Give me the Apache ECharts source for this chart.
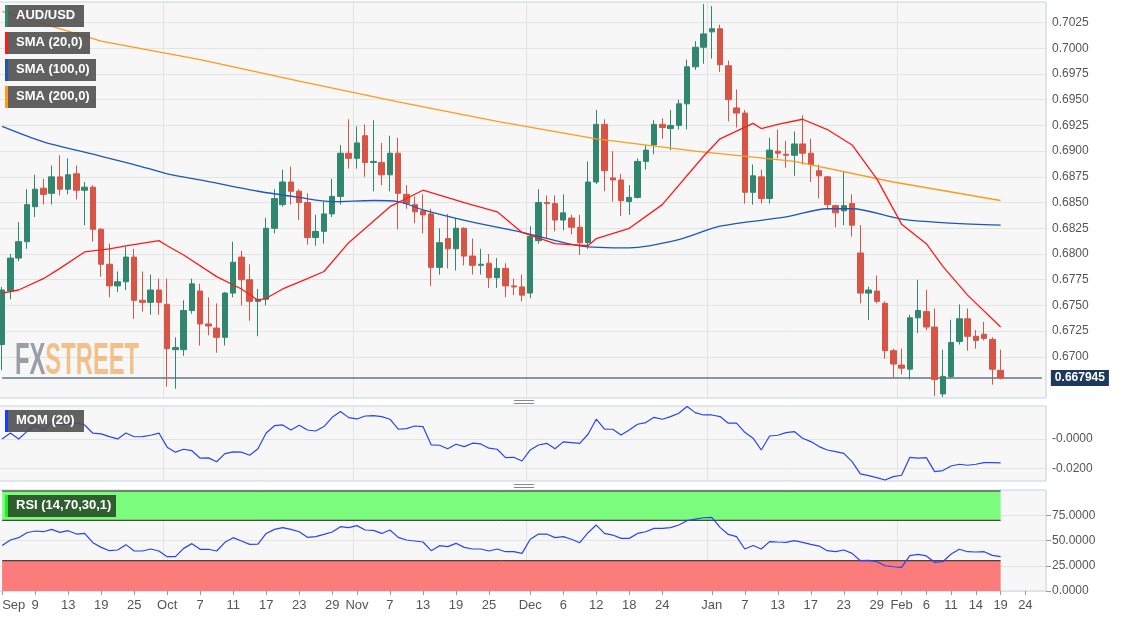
<!DOCTYPE html>
<html>
<head>
<meta charset="utf-8">
<script src="https://cdn.jsdelivr.net/npm/echarts@6/dist/echarts.min.js"></script>
<style>
  html, body { margin: 0; padding: 0; background: #fff; }
  #chart { width: 1125px; height: 618px; }
</style>
</head>
<body>
<div id="chart"></div>
<script>
// daily candles [open, close, low, high]
const ohlc = [
  [0.6712,0.6765,0.6687,0.6768],[0.6764,0.6796,0.6756,0.6800],[0.6796,0.6812,0.6793,0.6831],[0.6812,0.6848,0.6805,0.6863],
  [0.6846,0.6863,0.6836,0.6877],[0.6864,0.6858,0.6848,0.6873],[0.6859,0.6875,0.6848,0.6886],[0.6875,0.6863,0.6857,0.6896],
  [0.6863,0.6877,0.6858,0.6893],[0.6878,0.6862,0.6853,0.6886],[0.6862,0.6865,0.6828,0.6870],[0.6865,0.6824,0.6812,0.6867],
  [0.6824,0.6790,0.6778,0.6825],[0.6790,0.6769,0.6758,0.6810],[0.6769,0.6773,0.6763,0.6783],[0.6773,0.6797,0.6765,0.6807],
  [0.6797,0.6755,0.6737,0.6805],[0.6755,0.6753,0.6744,0.6783],[0.6753,0.6765,0.6741,0.6780],[0.6765,0.6753,0.6741,0.6776],
  [0.6751,0.6708,0.6671,0.6776],[0.6707,0.6709,0.6669,0.6719],[0.6707,0.6745,0.6701,0.6755],[0.6745,0.6771,0.6742,0.6776],
  [0.6764,0.6732,0.6711,0.6771],[0.6732,0.6730,0.6721,0.6758],[0.6728,0.6719,0.6704,0.6752],[0.6719,0.6762,0.6711,0.6763],
  [0.6762,0.6792,0.6758,0.6812],[0.6797,0.6775,0.6750,0.6803],[0.6775,0.6754,0.6735,0.6790],[0.6754,0.6756,0.6720,0.6766],
  [0.6756,0.6825,0.6750,0.6835],[0.6825,0.6854,0.6820,0.6863],[0.6848,0.6870,0.6846,0.6882],[0.6870,0.6861,0.6848,0.6885],
  [0.6861,0.6850,0.6833,0.6863],[0.6850,0.6816,0.6809,0.6859],[0.6816,0.6822,0.6808,0.6838],[0.6822,0.6839,0.6810,0.6851],
  [0.6839,0.6856,0.6836,0.6873],[0.6856,0.6898,0.6848,0.6906],[0.6898,0.6893,0.6883,0.6931],[0.6893,0.6908,0.6883,0.6924],
  [0.6915,0.6889,0.6875,0.6926],[0.6889,0.6890,0.6861,0.6930],[0.6889,0.6877,0.6867,0.6908],[0.6877,0.6898,0.6861,0.6915],
  [0.6898,0.6859,0.6824,0.6913],[0.6858,0.6849,0.6844,0.6867],[0.6848,0.6841,0.6830,0.6856],[0.6842,0.6838,0.6820,0.6858],
  [0.6839,0.6787,0.6769,0.6844],[0.6787,0.6811,0.6780,0.6825],[0.6815,0.6805,0.6786,0.6839],[0.6805,0.6825,0.6784,0.6835],
  [0.6825,0.6798,0.6789,0.6826],[0.6798,0.6789,0.6780,0.6815],[0.6789,0.6790,0.6780,0.6805],[0.6791,0.6777,0.6767,0.6800],
  [0.6777,0.6786,0.6767,0.6796],[0.6786,0.6769,0.6758,0.6791],[0.6769,0.6768,0.6760,0.6776],[0.6768,0.6760,0.6754,0.6780],
  [0.6762,0.6817,0.6757,0.6827],[0.6813,0.6850,0.6810,0.6863],[0.6850,0.6849,0.6815,0.6857],[0.6849,0.6833,0.6822,0.6857],
  [0.6833,0.6840,0.6823,0.6858],[0.6835,0.6826,0.6819,0.6838],[0.6826,0.6811,0.6799,0.6838],[0.6811,0.6870,0.6805,0.6890],
  [0.6870,0.6926,0.6868,0.6940],[0.6926,0.6881,0.6861,0.6931],[0.6874,0.6872,0.6851,0.6900],[0.6872,0.6852,0.6837,0.6878],
  [0.6851,0.6855,0.6838,0.6867],[0.6855,0.6890,0.6854,0.6893],[0.6890,0.6901,0.6882,0.6906],[0.6906,0.6926,0.6897,0.6930],
  [0.6926,0.6923,0.6912,0.6932],[0.6922,0.6925,0.6901,0.6940],[0.6925,0.6946,0.6921,0.6950],[0.6946,0.6982,0.6921,0.6989],
  [0.6982,0.7001,0.6979,0.7007],[0.7001,0.7014,0.6985,0.7043],[0.7016,0.7019,0.6990,0.7041],[0.7019,0.6984,0.6977,0.7023],
  [0.6983,0.6950,0.6929,0.6988],[0.6942,0.6937,0.6923,0.6960],[0.6937,0.6860,0.6849,0.6940],[0.6860,0.6876,0.6848,0.6887],
  [0.6875,0.6854,0.6849,0.6882],[0.6854,0.6901,0.6849,0.6913],[0.6900,0.6898,0.6893,0.6921],[0.6897,0.6896,0.6884,0.6910],
  [0.6896,0.6907,0.6876,0.6919],[0.6907,0.6898,0.6887,0.6935],[0.6898,0.6887,0.6870,0.6912],[0.6881,0.6876,0.6854,0.6887],
  [0.6875,0.6848,0.6843,0.6876],[0.6847,0.6840,0.6826,0.6848],[0.6842,0.6847,0.6828,0.6880],[0.6849,0.6828,0.6817,0.6858],
  [0.6801,0.6762,0.6752,0.6828],[0.6762,0.6765,0.6736,0.6768],[0.6764,0.6754,0.6752,0.6779],[0.6752,0.6706,0.6698,0.6754],
  [0.6706,0.6693,0.6680,0.6708],[0.6692,0.6689,0.6683,0.6708],[0.6688,0.6738,0.6678,0.6741],[0.6738,0.6745,0.6723,0.6775],
  [0.6744,0.6729,0.6726,0.6765],[0.6729,0.6678,0.6662,0.6747],[0.6664,0.6681,0.6661,0.6707],[0.6681,0.6714,0.6679,0.6736],
  [0.6715,0.6737,0.6712,0.6751],[0.6737,0.6720,0.6706,0.6747],[0.6720,0.6716,0.6708,0.6726],[0.6722,0.6718,0.6716,0.6734],
  [0.6717,0.6688,0.6673,0.6719],[0.6687,0.667945,0.6678,0.6707]
];
const lastPrice = 0.667945;

// moving averages read at [candle index, value]
const sma20 = [[0,0.6762],[2,0.6765],[5,0.6776],[7,0.6786],[10,0.6802],[13,0.6805],[15,0.6808],[19,0.6813],[20,0.6808],
  [22,0.6799],[26,0.6778],[29,0.6766],[31,0.6755],[32,0.6757],[34,0.6766],[37,0.6776],[39,0.6783],[42,0.6811],[47,0.6846],
  [51,0.6862],[56,0.6850],[60,0.6841],[63,0.6821],[67,0.6810],[71,0.6808],[72,0.6815],[76,0.6825],[80,0.6848],[85,0.6895],
  [87,0.6912],[91,0.6927],[92,0.6922],[94,0.6926],[97,0.6931],[100,0.6921],[103,0.6906],[106,0.6873],[109,0.6829],
  [112,0.6810],[114,0.6788],[117,0.6760],[121,0.6729]];
const sma100 = [[0,0.6924],[5,0.6909],[10,0.6899],[16,0.6887],[20,0.6878],[24,0.6872],[31,0.6861],[36,0.6855],[40,0.6851],
  [45,0.6852],[48,0.6851],[51,0.6843],[57,0.6831],[63,0.6821],[70,0.6808],[76,0.6806],[82,0.6814],[87,0.6827],[95,0.6836],
  [100,0.6844],[103,0.6844],[109,0.6834],[115,0.6830],[121,0.6828]];
const sma200 = [[0,0.7036],[12,0.7007],[24,0.6989],[36,0.6968],[48,0.6948],[60,0.6929],[72,0.6912],[84,0.6900],
  [96,0.6890],[108,0.6870],[121,0.6852]];

const mom = [0.0000,0.0040,0.0000,0.0050,0.0095,0.0060,0.0110,0.0095,0.0102,0.0109,0.0095,0.0039,0.0034,0.0016,0.0000,
  0.0040,0.0015,0.0016,0.0025,0.0040,-0.0056,-0.0090,-0.0070,-0.0080,-0.0131,-0.0129,-0.0155,-0.0100,-0.0088,-0.0090,
  -0.0111,-0.0067,0.0040,0.0090,0.0095,0.0061,0.0093,0.0061,0.0054,0.0084,0.0147,0.0186,0.0145,0.0136,0.0156,0.0158,
  0.0152,0.0134,0.0066,0.0070,0.0088,0.0084,-0.0041,-0.0043,-0.0067,-0.0036,-0.0052,-0.0029,-0.0034,-0.0063,-0.0070,
  -0.0127,-0.0125,-0.0150,-0.0075,-0.0041,-0.0030,-0.0067,-0.0020,-0.0025,-0.0030,0.0032,0.0134,0.0066,0.0066,0.0027,
  0.0061,0.0100,0.0111,0.0147,0.0134,0.0152,0.0175,0.0220,0.0179,0.0163,0.0163,0.0152,0.0107,0.0107,0.0045,0.0005,
  -0.0075,0.0020,0.0025,0.0043,0.0050,0.0005,-0.0018,-0.0052,-0.0075,-0.0086,-0.0098,-0.0154,-0.0238,-0.0250,-0.0263,
  -0.0279,-0.0256,-0.0247,-0.0125,-0.0131,-0.0127,-0.0222,-0.0215,-0.0184,-0.0172,-0.0179,-0.0172,-0.0161,-0.0161,-0.0163];

const rsi = [45,50.5,52.8,57.7,59.4,58.7,61,58,59.7,56.4,57,47.8,43.2,39.9,40.6,45.9,39.6,39.6,41.6,39.6,34,34,42.2,46.9,
  41.3,41.3,39.6,48.2,52.8,49.5,46.2,46.5,57,61,62.7,61,58.7,53.1,53.8,56,58.4,63.7,62.7,64.7,60.4,60,57,60.4,53.1,50.5,
  49.5,48.5,39.9,44.9,43.9,47.2,43.2,41.6,41.6,39.6,41.6,38.9,38.9,37.3,51.2,56.4,56.4,52.8,53.8,51.2,47.8,57.7,65.3,57,
  55.4,52.1,52.1,57,58.7,62,62,62.7,65.3,69.6,71.2,72.5,72.9,63,56,53.8,41.6,45,41.6,48.9,48.5,48.2,49.8,48.2,46.2,44.5,
  39.9,38.9,40.6,37.3,30,30.4,29,25,24,23.4,35,36.3,34.7,28.4,29,36.6,41.3,38.9,38.6,38.9,35.3,34];
const rsiLevels = { overbought: 70, oversold: 30, top: 99 };

const priceTicks = [0.6700,0.6725,0.6750,0.6775,0.6800,0.6825,0.6850,0.6875,0.6900,0.6925,0.6950,0.6975,0.7000,0.7025];
const momTicks = [0, -0.02];
const rsiTicks = [0, 25, 50, 75];

const dateLabels = {
  '2019-09-03':'Sep','2019-09-09':'9','2019-09-13':'13','2019-09-19':'19','2019-09-25':'25',
  '2019-10-01':'Oct','2019-10-07':'7','2019-10-11':'11','2019-10-17':'17','2019-10-23':'23','2019-10-29':'29',
  '2019-11-01':'Nov','2019-11-07':'7','2019-11-13':'13','2019-11-19':'19','2019-11-25':'25',
  '2019-12-02':'Dec','2019-12-06':'6','2019-12-12':'12','2019-12-18':'18','2019-12-24':'24',
  '2020-01-01':'Jan','2020-01-07':'7','2020-01-13':'13','2020-01-17':'17','2020-01-23':'23','2020-01-29':'29',
  '2020-02-03':'Feb','2020-02-06':'6','2020-02-11':'11','2020-02-14':'14','2020-02-19':'19','2020-02-24':'24'
};
const monthStarts = ['2019-10-01','2019-11-01','2019-12-02','2020-01-01','2020-02-03'];

// weekday dates, Sep 3 2019 .. Feb 26 2020
const dates = [];
for (let d = new Date(Date.UTC(2019, 8, 3)); d <= new Date(Date.UTC(2020, 1, 26)); d.setUTCDate(d.getUTCDate() + 1)) {
  const wd = d.getUTCDay();
  if (wd !== 0 && wd !== 6) dates.push(d.toISOString().slice(0, 10));
}
const lastIdx = ohlc.length - 1;
const flat = (v, to) => [[0, v], [to, v]];

const up = '#31876d', down = '#d65546';
const txt = '#555';
const gridBorder = '#c9d0e2';

function xAxisFor(idx, showLabels) {
  return {
    type: 'category', gridIndex: idx, data: dates, boundaryGap: true,
    axisLine: { show: false },
    axisTick: { show: showLabels, alignWithLabel: true, length: 4, lineStyle: { color: '#999' },
      interval: (i, v) => !!dateLabels[v] },
    axisLabel: { show: showLabels, color: txt, fontSize: 13, fontFamily: 'Arial, Liberation Sans', margin: 8,
      alignMinLabel: 'left', interval: (i, v) => !!dateLabels[v], formatter: v => dateLabels[v] || '' },
    splitLine: { show: true, lineStyle: { color: '#e3e3e3' }, interval: (i, v) => monthStarts.includes(v) }
  };
}

function yAxisFor(idx, min, max, ticks, fmt, tick) {
  return {
    type: 'value', gridIndex: idx, position: 'right', min, max, scale: true,
    axisLine: { show: false },
    axisTick: { show: tick, length: 5, lineStyle: { color: '#999' }, customValues: ticks },
    axisLabel: { color: txt, fontSize: 12, fontFamily: 'Arial, Liberation Sans', margin: 6, customValues: ticks, formatter: fmt },
    splitLine: { show: true, lineStyle: { color: '#e3e3e3' } }
  };
}

const legendBoxes = [
  { text: 'AUD/USD', w: 79, c: '#2e8b6e', y: 5 },
  { text: 'SMA (20,0)', w: 85, c: '#ff1a1a', y: 32 },
  { text: 'SMA (100,0)', w: 91, c: '#1f57b5', y: 59 },
  { text: 'SMA (200,0)', w: 91, c: '#ff9a1a', y: 86 }
];
const graphics = [];
legendBoxes.forEach(b => {
  graphics.push({ type: 'rect', left: 5, top: b.y, shape: { width: b.w, height: 22 }, style: { fill: 'rgba(80,80,80,0.9)' }, z: 100 });
  graphics.push({ type: 'rect', left: 5, top: b.y, shape: { width: 3, height: 22 }, style: { fill: b.c }, z: 101 });
  graphics.push({ type: 'text', left: 16, top: b.y + 4, style: { text: b.text, fill: '#fff', font: 'bold 13px Arial, Liberation Sans' }, z: 101 });
});
graphics.push(
  { type: 'rect', left: 5, top: 410, shape: { width: 79, height: 22 }, style: { fill: 'rgba(80,80,80,0.9)' }, z: 100 },
  { type: 'rect', left: 5, top: 410, shape: { width: 3, height: 22 }, style: { fill: '#1a3cff' }, z: 101 },
  { type: 'text', left: 16, top: 414, style: { text: 'MOM (20)', fill: '#fff', font: 'bold 13px Arial, Liberation Sans' }, z: 101 },
  { type: 'rect', left: 5, top: 495, shape: { width: 111, height: 22 }, style: { fill: '#2f5e2f' }, z: 100 },
  { type: 'rect', left: 5, top: 495, shape: { width: 3, height: 22 }, style: { fill: '#22ee22' }, z: 101 },
  { type: 'text', left: 16, top: 499, style: { text: 'RSI (14,70,30,1)', fill: '#fff', font: 'bold 13px Arial, Liberation Sans' }, z: 101 },
  { type: 'text', x: 15, y: 340, scaleX: 0.54, z: 5, style: { text: '{a|FX}{b|STREET}',
      rich: { a: { fill: 'rgba(130,135,145,0.8)', fontWeight: 'bold', fontSize: 44, fontFamily: 'Arial, Liberation Sans' },
              b: { fill: 'rgba(240,175,100,0.75)', fontWeight: 'bold', fontSize: 44, fontFamily: 'Arial, Liberation Sans' } } } },
  { type: 'rect', left: 0, top: 399, shape: { width: 1125, height: 6 }, style: { fill: '#fff' }, z: 50 },
  { type: 'rect', left: 0, top: 482, shape: { width: 1125, height: 7 }, style: { fill: '#fff' }, z: 50 },
  { type: 'rect', left: 514, top: 400, shape: { width: 20, height: 1 }, style: { fill: '#888' }, z: 60 },
  { type: 'rect', left: 514, top: 403, shape: { width: 20, height: 1 }, style: { fill: '#888' }, z: 60 },
  { type: 'rect', left: 514, top: 484, shape: { width: 20, height: 1 }, style: { fill: '#888' }, z: 60 },
  { type: 'rect', left: 514, top: 487, shape: { width: 20, height: 1 }, style: { fill: '#888' }, z: 60 }
);

const band = (level, origin, fill, z) => ({
  type: 'line', xAxisIndex: 2, yAxisIndex: 2, data: flat(level, lastIdx), showSymbol: false, silent: true, z,
  lineStyle: { color: '#1f1f1f', width: 1 }, areaStyle: { color: fill, opacity: 1, origin }
});

const gridBase = { left: -2, right: 79, show: true, backgroundColor: '#f7f7f8', borderColor: gridBorder, outerBoundsMode: 'none', containLabel: false };

const chart = echarts.init(document.getElementById('chart'), null, { renderer: 'canvas' });
chart.setOption({
  animation: false,
  backgroundColor: '#fff',
  grid: [
    Object.assign({ top: 2, height: 396 }, gridBase),
    Object.assign({ top: 406, height: 75 }, gridBase),
    Object.assign({ top: 490, height: 101 }, gridBase)
  ],
  xAxis: [xAxisFor(0, false), xAxisFor(1, false), xAxisFor(2, true)],
  yAxis: [
    yAxisFor(0, 0.6660, 0.7045, priceTicks, v => v.toFixed(4), false),
    yAxisFor(1, -0.0286, 0.0224, momTicks, v => (v === 0 ? '-0.0000' : v.toFixed(4)), false),
    yAxisFor(2, 0, 100, rsiTicks, v => v.toFixed(4), true)
  ],
  graphic: graphics,
  series: [
    {
      type: 'candlestick', xAxisIndex: 0, yAxisIndex: 0, data: ohlc, barWidth: '72%',
      itemStyle: { color: up, color0: down, borderColor: up, borderColor0: down, borderWidth: 1 }
    },
    { type: 'line', xAxisIndex: 0, yAxisIndex: 0, data: sma200, showSymbol: false, lineStyle: { color: '#ff9a1a', width: 1.3 } },
    { type: 'line', xAxisIndex: 0, yAxisIndex: 0, data: sma100, showSymbol: false, smooth: 0.3, lineStyle: { color: '#1f57b5', width: 1.3 } },
    { type: 'line', xAxisIndex: 0, yAxisIndex: 0, data: sma20, showSymbol: false, lineStyle: { color: '#ff1a1a', width: 1.3 } },
    {
      // last price line
      type: 'line', xAxisIndex: 0, yAxisIndex: 0, data: flat(lastPrice, dates.length - 1), showSymbol: false, silent: true, z: 1,
      lineStyle: { color: '#1d3557', width: 1.2 },
      endLabel: { show: true, formatter: lastPrice.toFixed(6), color: '#fff', backgroundColor: '#1d3a5c',
        padding: [2, 4], fontWeight: 'bold', fontSize: 12, fontFamily: 'Arial, Liberation Sans', distance: 9 }
    },
    { type: 'line', xAxisIndex: 1, yAxisIndex: 1, data: mom, showSymbol: false, lineStyle: { color: '#2a45f0', width: 1.2 } },
    band(rsiLevels.top, rsiLevels.overbought, '#7cfc7c', 2),
    band(rsiLevels.overbought, rsiLevels.overbought, '#7cfc7c', 2),
    band(rsiLevels.oversold, 0, '#fc7c7c', 2),
    { type: 'line', xAxisIndex: 2, yAxisIndex: 2, data: rsi, showSymbol: false, z: 5, lineStyle: { color: '#2a45f0', width: 1.2 } }
  ]
});
</script>
</body>
</html>
